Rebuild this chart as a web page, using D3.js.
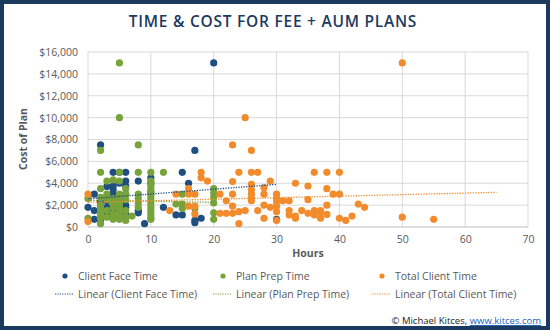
<!DOCTYPE html>
<html><head><meta charset="utf-8">
<script src="https://cdn.jsdelivr.net/npm/d3@7"></script>
<style>body{margin:0;background:#fff}svg{display:block}</style>
</head><body>
<svg id="c" width="550" height="330"></svg>
<script>
const title = "TIME & COST FOR FEE + AUM PLANS";
const xTicks = [0,10,20,30,40,50,60,70];
const yTicks = [0,2000,4000,6000,8000,10000,12000,14000,16000];
const seriesNames = ["Client Face Time","Plan Prep Time","Total Client Time"];
const seriesColors = ["#1f4e80","#77a33a","#f28b2c"];

const faceHours = [0,1,1,1,2,2,2,2,3,3,3,3,3,4,4,4,4,4,4,4,4,5,5,5,5,6,6,6,6,6,6,6,8,8,8,9,10,10,10,12,14,15,15,16,17,17,17,18,20,30];
const faceCost  = [1800,3000,1500,700,7500,2300,650,2000,1800,1400,1100,2400,3700,5000,3750,3400,3000,2000,1500,900,2500,5000,4000,2500,1000,5000,4200,3750,3000,2000,1800,1200,4200,1300,1500,300,4500,4000,3200,1800,1100,1100,5000,4000,7000,600,400,800,15000,700];

const prepHours = [0,0,2,2,2,2,2,2,2,2,2,2,3,3,3,3,3,4,4,4,4,4,4,5,5,5,5,5,5,5,5,5,5,5,5,5,6,6,6,6,6,6,7,8,8,8,8,8,8,10,10,10,10,10,10,10,10,10,10,10,10,10,10,12,14,15,15,15,17,20,20,20,20,20,20];
const prepCost  = [2600,800,7000,5000,3500,2700,2000,1700,1400,1100,800,300,4200,3000,2500,1500,900,4300,2600,2200,1800,1200,700,15000,10000,5000,4200,3000,2700,2400,2100,1800,1500,1200,1000,700,3500,3000,2500,1500,900,600,1000,7500,5000,3000,2600,2200,1800,5000,4200,3900,3600,3300,3000,2700,2400,2100,1800,1500,1200,900,700,5000,2100,3000,2100,1700,1700,3500,3100,2700,2200,1300,700];

const totalHours = [0,0,13,14,16,16,17,16,17,17,18,18,19,21,23,26,25,24,26,27,36,38,40,50,23,26,29,33,35,23,26,26,28,28,30,30,22,26,26,23,28,30,30,31,32,35,21,22,23,24,25,27,29,30,30,32,32,33,33,34,35,36,36,37,37,37,28,24,38,39,40,38,43,44,38,40,41,42,50,55];
const totalCost  = [3000,500,1500,3000,3500,3000,3000,1900,1900,1200,5000,4500,4200,3000,7500,7000,10000,5000,5000,5000,5000,5000,5000,15000,4150,3900,4200,4000,3750,3000,3400,3000,3600,3000,3000,2600,2400,2600,2400,1900,2000,2300,1900,2400,2400,2500,1250,1250,1250,1400,1500,1500,1800,1400,600,1500,1100,1000,800,1500,1250,1500,1100,1500,1300,800,800,300,3500,3000,3000,2000,2100,1800,1150,800,600,1000,900,700];

// linear trendlines: [startHours, endHours], [startCost, endCost]
const trendHours = [[0,30],[0,20],[0,65]];
const trendCost  = [[2570,3900],[2450,2250],[2260,3170]];

const svg = d3.select("#c");
const font = "'Open Sans', sans-serif";
const navy = "#1c3a5e";
const grey = "#595959";

svg.append("rect").attr("x",2).attr("y",2).attr("width",546).attr("height",326)
  .attr("fill","#fff").attr("stroke",navy).attr("stroke-width",4);

svg.append("text").attr("x",273).attr("y",27).attr("text-anchor","middle")
  .attr("font-family",font).attr("font-weight",600).attr("font-size",15.5)
  .attr("letter-spacing",0.75).attr("fill",navy).text(title);

const x = d3.scaleLinear().domain([0,70]).range([88,528]);
const y = d3.scaleLinear().domain([0,16000]).range([227,52]);

const g = svg.append("g");
g.selectAll("line.v").data(xTicks).join("line").attr("class","v")
  .attr("x1",d=>x(d)).attr("x2",d=>x(d)).attr("y1",y(16000)).attr("y2",y(0))
  .attr("stroke","#d9d9d9").attr("stroke-width",1);
g.selectAll("line.h").data(yTicks).join("line").attr("class","h")
  .attr("x1",x(0)).attr("x2",x(70)).attr("y1",d=>y(d)).attr("y2",d=>y(d))
  .attr("stroke",d=>d===0?"#bfbfbf":"#d9d9d9").attr("stroke-width",1);

const fmt = d3.format(",");
const xAxis = d3.axisBottom(x).tickValues(xTicks).tickSize(0).tickPadding(9);
const yAxis = d3.axisLeft(y).tickValues(yTicks).tickSize(0).tickPadding(10).tickFormat(d=>"$"+fmt(d));
const gx = svg.append("g").attr("transform",`translate(0,${y(0)})`).call(xAxis);
const gy = svg.append("g").attr("transform",`translate(${x(0)},0)`).call(yAxis);
[gx,gy].forEach(a=>{a.select(".domain").remove();
  a.selectAll("text").attr("font-family",font).attr("font-size",10.5).attr("fill",grey);});
gx.selectAll("text").attr("dy","0.71em");

svg.append("text").attr("x",308).attr("y",257).attr("text-anchor","middle")
  .attr("font-family",font).attr("font-weight",700).attr("font-size",10.5).attr("fill",grey).text("Hours");
svg.append("text").attr("transform","translate(27,139) rotate(-90)").attr("text-anchor","middle")
  .attr("font-family",font).attr("font-weight",700).attr("font-size",10.5).attr("fill",grey).text("Cost of Plan");

const series = [
  {h:faceHours,c:faceCost},
  {h:prepHours,c:prepCost},
  {h:totalHours,c:totalCost}
];
const plot = svg.append("g");
series.forEach((s,i)=>{
  const pts = s.h.map((h,j)=>({h,c:s.c[j]}));
  plot.append("g").selectAll("circle").data(pts).join("circle")
    .attr("cx",d=>x(d.h)).attr("cy",d=>y(d.c)).attr("r",3.6).attr("fill",seriesColors[i]);
});
series.forEach((s,i)=>{
  plot.append("line")
    .attr("x1",x(trendHours[i][0])).attr("x2",x(trendHours[i][1]))
    .attr("y1",y(trendCost[i][0])).attr("y2",y(trendCost[i][1]))
    .attr("stroke",seriesColors[i]).attr("stroke-width",1.3).attr("stroke-dasharray","1.3,1.3");
});

// legend
const legX = [65,223,382];
const leg = svg.append("g").attr("font-family",font).attr("font-size",10.5).attr("fill",grey);
seriesNames.forEach((n,i)=>{
  leg.append("circle").attr("cx",legX[i]).attr("cy",276).attr("r",2.6).attr("fill",seriesColors[i]);
  leg.append("text").attr("x",legX[i]+13).attr("y",279.8).text(n);
  leg.append("line").attr("x1",legX[i]-10).attr("x2",legX[i]+9).attr("y1",294).attr("y2",294)
    .attr("stroke",seriesColors[i]).attr("stroke-width",1.2).attr("stroke-dasharray","1.2,1.2");
  leg.append("text").attr("x",legX[i]+13).attr("y",297.8).text("Linear ("+n+")");
});

const ft = svg.append("text").attr("x",541).attr("y",324).attr("text-anchor","end")
  .attr("font-family",font).attr("font-size",9.5).attr("fill","#222");
ft.append("tspan").text("© Michael Kitces, ");
ft.append("tspan").attr("fill","#1a5fb4").attr("text-decoration","underline").text("www.kitces.com");
</script>
</body></html>
